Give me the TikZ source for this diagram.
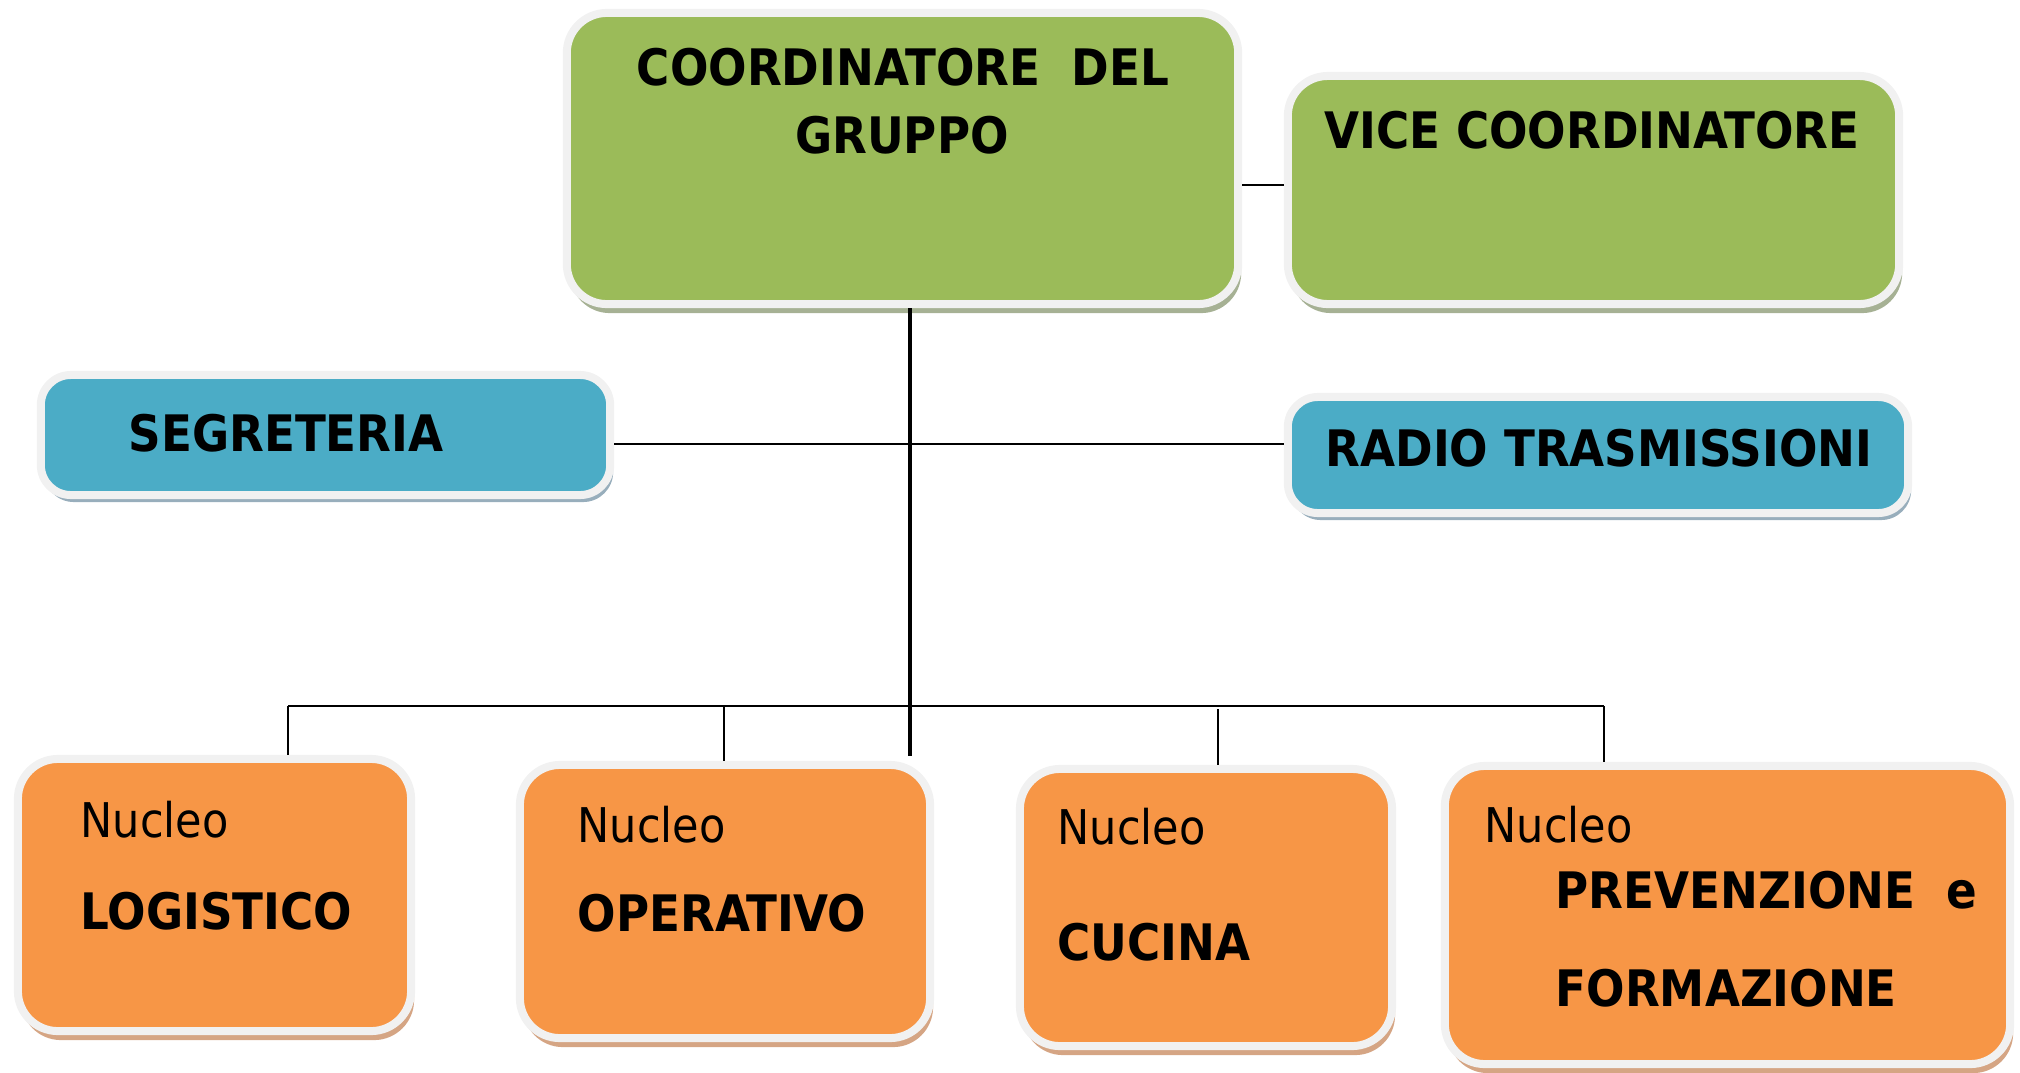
\documentclass[tikz,border=0pt]{standalone}
\usepackage{fontspec}
\setmainfont{DejaVu Sans Condensed}
\usetikzlibrary{shadows}
\definecolor{boxgreen}{HTML}{9BBB59}
\definecolor{boxblue}{HTML}{4BACC6}
\definecolor{boxorange}{HTML}{F79646}
\definecolor{rim}{HTML}{F1F1F1}
\definecolor{shgreen}{HTML}{A6B194}
\definecolor{shblue}{HTML}{98AEBC}
\definecolor{shorange}{HTML}{D5A584}
\tikzset{
  unitbox/.style={draw=rim, line width=0.08cm, rounded corners=0.4cm, inner sep=0},
  greenbox/.style={unitbox, fill=boxgreen, drop shadow={shadow xshift=0.03cm, shadow yshift=-0.09cm, fill=shgreen, opacity=1}},
  bluebox/.style={unitbox, rounded corners=0.3cm, fill=boxblue, drop shadow={shadow xshift=0.03cm, shadow yshift=-0.07cm, fill=shblue, opacity=1}},
  orangebox/.style={unitbox, fill=boxorange, drop shadow={shadow xshift=0.03cm, shadow yshift=-0.09cm, fill=shorange, opacity=1}},
  title/.style={inner sep=0, font=\bfseries\fontsize{14.3}{17}\selectfont},
  sub/.style={inner sep=0, anchor=west, font=\fontsize{13.6}{17}\selectfont},
}

\begin{document}
\begin{tikzpicture}[x=0.01cm, y=-0.01cm]
  \useasboundingbox (0,0) rectangle (2020,1072);
  % boxes
  \node[greenbox, minimum width=6.71cm, minimum height=2.91cm] (coord) at (902.5,158.5) {};
  \node[greenbox, minimum width=6.11cm, minimum height=2.28cm] (vice) at (1593.5,190) {};
  \node[bluebox, minimum width=5.69cm, minimum height=1.20cm] (seg) at (325.5,435) {};
  \node[bluebox, minimum width=6.20cm, minimum height=1.16cm] (radio) at (1598,455) {};
  \node[orangebox, minimum width=3.93cm, minimum height=2.72cm] (log) at (214.5,895) {};
  \node[orangebox, minimum width=4.10cm, minimum height=2.73cm] (oper) at (725,901.5) {};
  \node[orangebox, minimum width=3.72cm, minimum height=2.77cm] (cuc) at (1206,907.5) {};
  \node[orangebox, minimum width=5.65cm, minimum height=2.98cm] (prev) at (1727.5,915) {};
  % texts
  \node[title] (coordA) at (903,67) {COORDINATORE\ \ DEL};
  \node[title] (coordB) at (902,135) {GRUPPO};
  \node[title] (vicetxt) at (1592,130) {VICE COORDINATORE};
  \node[title, anchor=west] (segtxt) at (128,433) {SEGRETERIA};
  \node[title] (radiotxt) at (1599,448) {RADIO TRASMISSIONI};
  \node[sub] (logA) at (80,820) {Nucleo};
  \node[title, anchor=west] (logB) at (80,911) {LOGISTICO};
  \node[sub] (operA) at (577,825) {Nucleo};
  \node[title, anchor=west] (operB) at (577,913) {OPERATIVO};
  \node[sub] (cucA) at (1057,827) {Nucleo};
  \node[title, anchor=west] (cucB) at (1057,942) {CUCINA};
  \node[sub] (prevA) at (1484,825) {Nucleo};
  \node[title, anchor=west] (prevB) at (1555,890) {PREVENZIONE\ \ e};
  \node[title, anchor=west] (prevC) at (1555,988) {FORMAZIONE};
  % connectors
  \coordinate (top) at (1260,185);
  \coordinate (mid) at (910,444);
  \coordinate (tr) at (910,756);
  \coordinate (dlog) at (288,706);
  \coordinate (doper) at (724,706);
  \coordinate (dcuc) at (1218,709);
  \coordinate (dprev) at (1604,706);
  \draw[line width=0.3pt] (coord.east |- top) -- (vice.west |- top);
  \draw[line width=0.4pt] (seg.east |- mid) -- (radio.west |- mid);
  \draw[line width=0.9pt] (tr |- coord.south) -- (tr);
  \draw[line width=0.6pt] (dlog) -- (dprev);
  \draw[line width=0.4pt] (dlog) -- (dlog |- log.north);
  \draw[line width=0.4pt] (doper) -- (doper |- oper.north);
  \draw[line width=0.4pt] (dcuc) -- (dcuc |- cuc.north);
  \draw[line width=0.4pt] (dprev) -- (dprev |- prev.north);
\end{tikzpicture}
\end{document}
